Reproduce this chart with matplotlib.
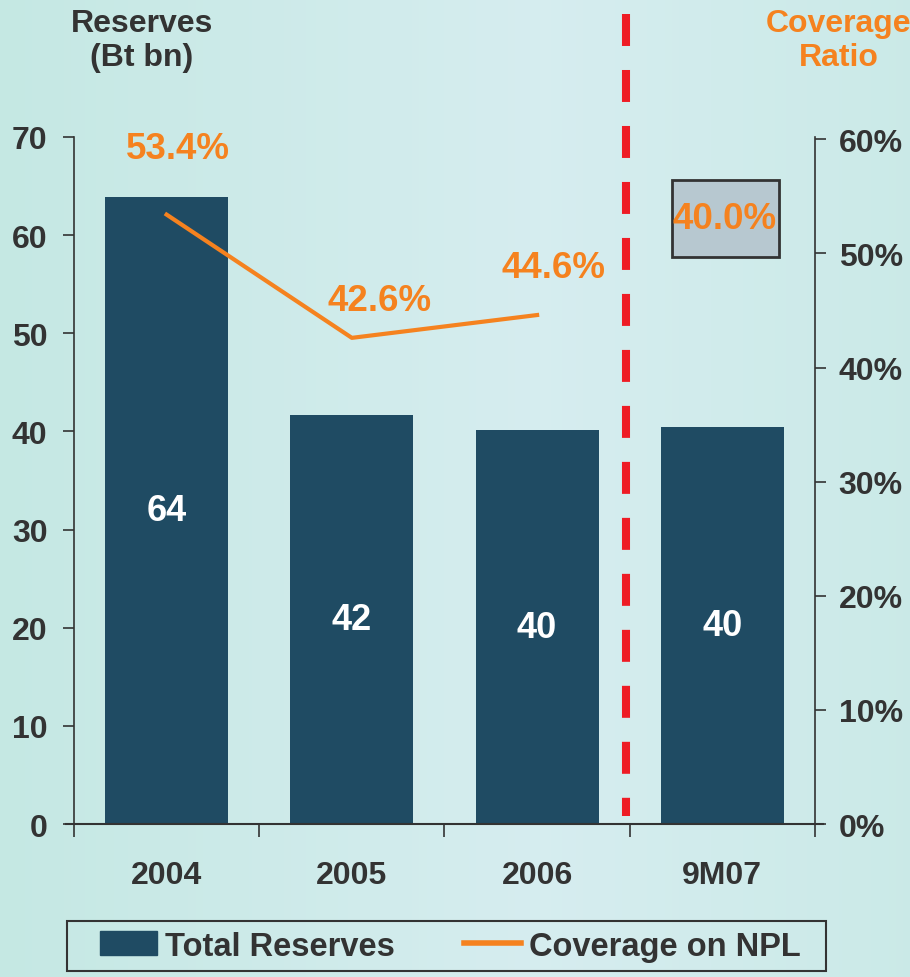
import matplotlib
matplotlib.use("Agg")
import matplotlib.pyplot as plt
from matplotlib.lines import Line2D
from matplotlib.patches import Patch, Rectangle
import numpy as np

#################   data   #################

periods = ['2004', '2005', '2006', '9M07']
reserves = [63.9, 41.7, 40.1, 40.5]          # Bt bn
reserve_labels = ['64', '42', '40', '40']
coverage = [0.534, 0.426, 0.446]              # coverage on NPL, 2004-2006
coverage_labels = ['53.4%', '42.6%', '44.6%']
coverage_9m07 = 0.400
coverage_9m07_label = '40.0%'
left_ticks = [0, 10, 20, 30, 40, 50, 60, 70]
right_ticks = [0, 0.1, 0.2, 0.3, 0.4, 0.5, 0.6]

#################   styles   #################

navy = '#1f4b63'
orange = '#f5821f'
red = '#ee1c25'
dark = '#333333'
font = ['Liberation Sans', 'DejaVu Sans']

fig = plt.figure(figsize=(9.1, 9.78), dpi=100)

# light teal background
bg = fig.add_axes([0, 0, 1, 1], zorder=-10)
grad = np.linspace(0, 1, 256)
img = np.zeros((2, 256, 3))
c1 = np.array([0.77, 0.91, 0.89])
c2 = np.array([0.84, 0.93, 0.94])
for i, g in enumerate(grad):
    w = max(1 - abs(g - 0.6) * 1.6, 0)
    img[:, i] = c1 * (1 - w) + c2 * w
bg.imshow(img, aspect='auto', extent=[0, 1, 0, 1])
bg.axis('off')

ax = fig.add_axes([0.0813, 0.1564, 0.8143, 0.7025])
ax.patch.set_alpha(0)
x = np.arange(len(periods))
ax.bar(x, reserves, width=0.665, color=navy, zorder=2)
for xi, v, lab in zip(x, reserves, reserve_labels):
    ax.text(xi, v / 2, lab, ha='center', va='center',
            color='white', fontsize=26, fontweight='bold', family=font)

ax.set_xlim(-0.5, 3.5)
ax.set_ylim(0, 70)
ax.set_yticks(left_ticks)
ax.set_yticklabels([str(t) for t in left_ticks], fontsize=23, fontweight='bold',
                   color=dark, family=font)
ax.set_xticks([-0.5, 0.5, 1.5, 2.5, 3.5])
ax.set_xticklabels([])
ax.set_xticks(x, minor=True)
ax.set_xticklabels(periods, minor=True, fontsize=23, fontweight='bold',
                   color=dark, family=font)
ax.tick_params(axis='x', which='minor', length=0, pad=26)
ax.tick_params(axis='x', which='major', length=9, width=1.2, color=dark)
ax.tick_params(axis='y', length=8, width=1.2, color=dark, pad=11)
for s in ['top', 'right']:
    ax.spines[s].set_visible(False)
ax.spines['left'].set_color(dark)
ax.spines['left'].set_linewidth(1.2)
ax.spines['bottom'].set_color(dark)
ax.spines['bottom'].set_linewidth(1.5)
ax.spines['bottom'].set_bounds(-0.545, 3.545)

ax2 = ax.twinx()
ax2.set_ylim(0, 0.602)
ax2.plot(x[:3], coverage, color=orange, lw=3, zorder=3)
label_pos = [(0.06, 0.592), (0.15, 0.459), (0.09, 0.488)]
for xi, lab, (dx, yy) in zip(x[:3], coverage_labels, label_pos):
    ax2.text(xi + dx, yy, lab, ha='center', va='center', color=orange,
             fontsize=26.5, fontweight='bold', family=font)
# 9M07 coverage shown as a boxed figure only
ax2.add_patch(Rectangle((2.727, 0.4967), 0.578, 0.0673, fc='#b7c8d0', ec=dark,
                        lw=2, zorder=3))
ax2.text(3.014, 0.531, coverage_9m07_label, ha='center', va='center', color=orange,
         fontsize=26.5, fontweight='bold', family=font, zorder=4)
ax2.set_yticks(right_ticks)
ax2.set_yticklabels([f'{int(round(t * 100))}%' for t in right_ticks], fontsize=23,
                    fontweight='bold', color=dark, family=font)
ax2.tick_params(axis='y', length=8, width=1.2, color=dark, pad=9)
for s in ['top', 'left', 'bottom']:
    ax2.spines[s].set_visible(False)
ax2.spines['right'].set_color(dark)
ax2.spines['right'].set_linewidth(1.2)

# separator between full years and 9M07
ax.plot([2.48, 2.48], [82.5, 0.82], color=red, lw=5.8, ls=(0, (3.97, 2.98)),
        clip_on=False, zorder=4)

fig.text(0.156, 0.958, 'Reserves\n(Bt bn)', ha='center', va='center', fontsize=23,
         fontweight='bold', color=dark, family=font, linespacing=1.2)
fig.text(0.922, 0.958, 'Coverage\nRatio', ha='center', va='center', fontsize=23,
         fontweight='bold', color=orange, family=font, linespacing=1.2)

# legend with its own frame
fig.patches.append(Rectangle((67 / 910, 1 - 972 / 978), 759 / 910, 50 / 978,
                             transform=fig.transFigure, fill=False, ec=dark, lw=1.5))
handles = [Patch(color=navy, label='Total Reserves'),
           Line2D([0], [0], color=orange, lw=4, label='Coverage on NPL')]
leg = fig.legend(handles=handles, loc='center', ncol=2, bbox_to_anchor=(0.495, 0.0316),
                 frameon=False, prop={'family': font, 'size': 23.5, 'weight': 'bold'},
                 handlelength=1.75, handleheight=0.75, handletextpad=0.25,
                 columnspacing=2.1, borderpad=0.2)
for t in leg.get_texts():
    t.set_color(dark)

fig.savefig('out.png', dpi=100)
